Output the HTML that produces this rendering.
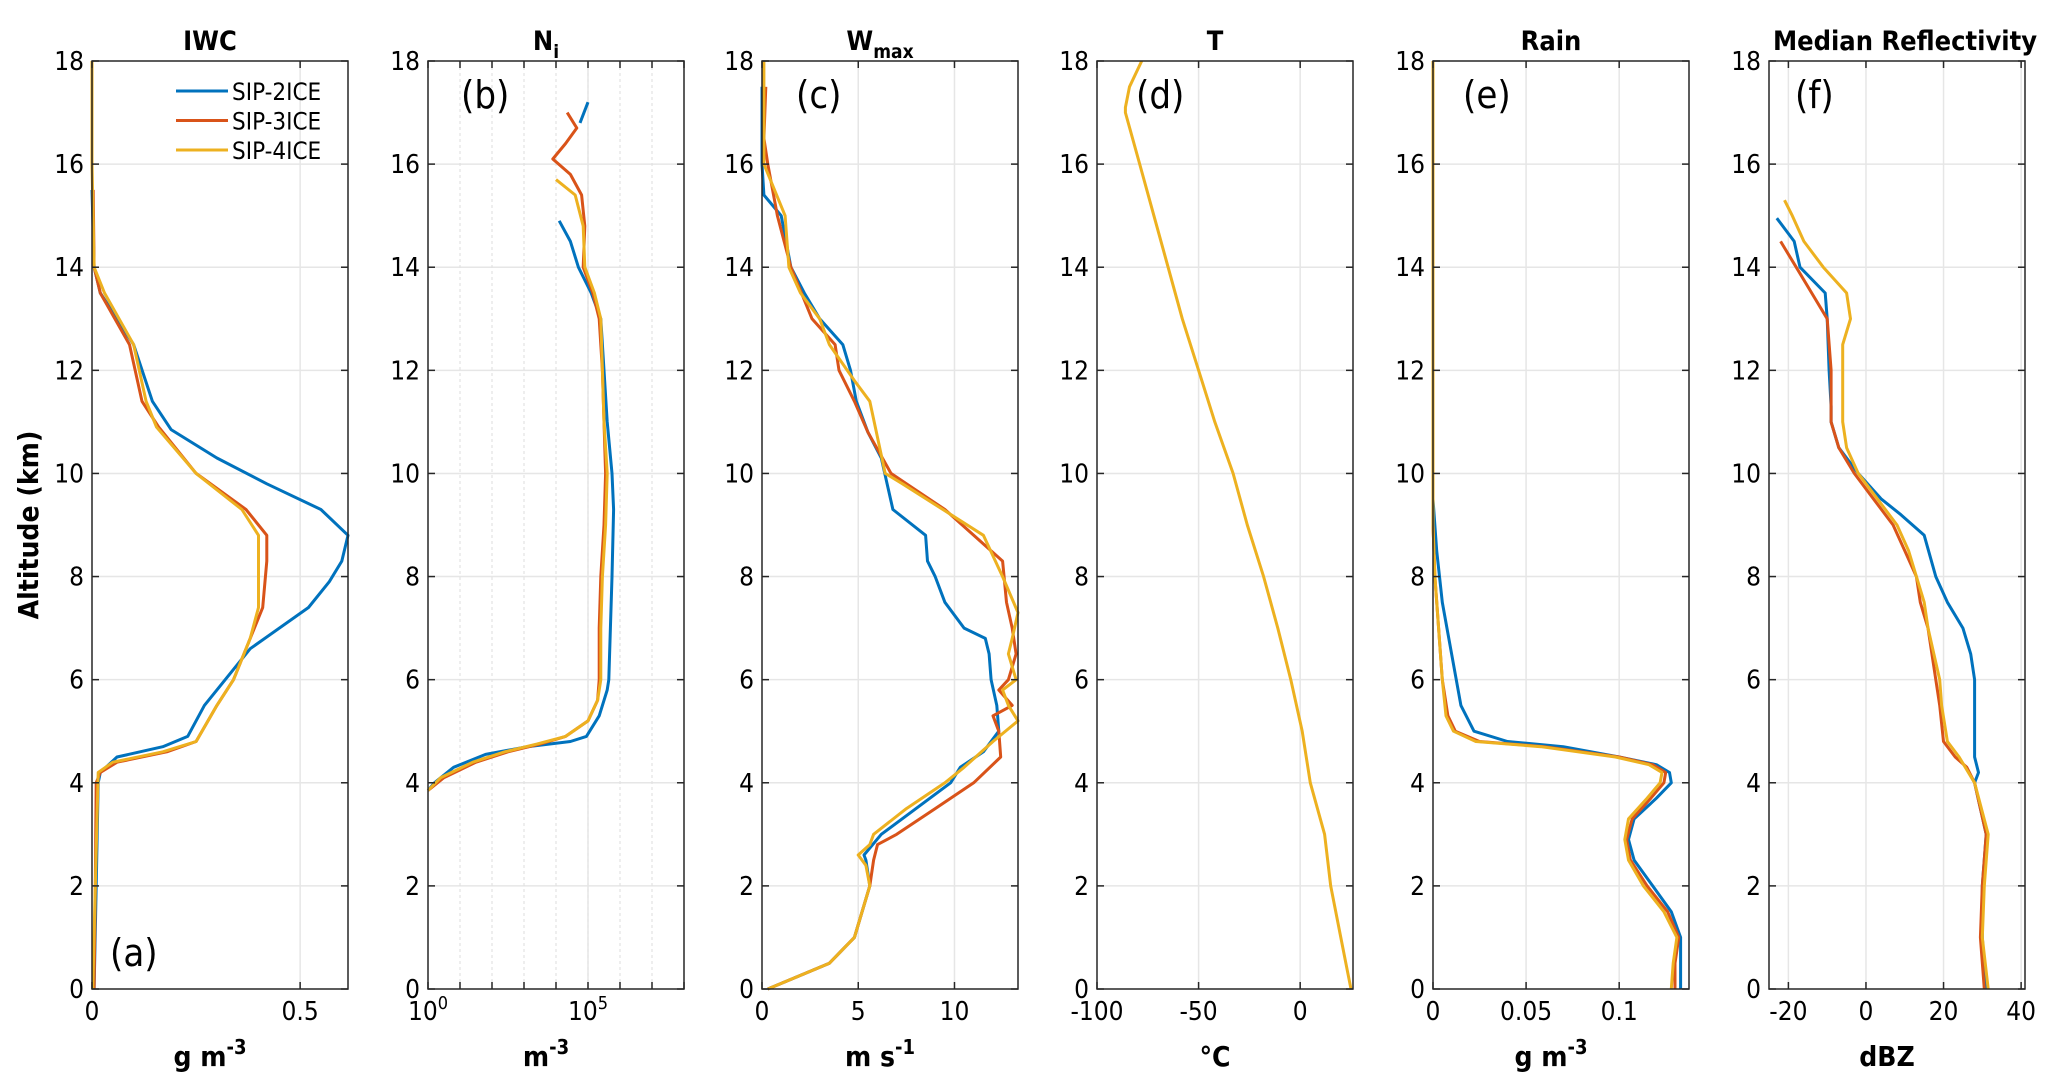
<!DOCTYPE html>
<html><head><meta charset="utf-8">
<style>
html,body{margin:0;padding:0;background:#fff;}
svg{display:block;}
text{font-family:"DejaVu Sans Condensed","DejaVu Sans","Liberation Sans",sans-serif;fill:#000;}
</style></head>
<body>
<svg id="fig" width="2067" height="1092" viewBox="0 0 2067 1092" xmlns="http://www.w3.org/2000/svg"></svg>
<script>
// ---------- data (altitude km, value) ----------
var altTicks = [0,2,4,6,8,10,12,14,16,18];
var seriesNames = ["SIP-2ICE","SIP-3ICE","SIP-4ICE"];
var seriesColors = ["#0072BD","#D95319","#EDB120"];

// IWC (g m-3)
var iwcAlt2 = [15.5,14,13.5,12.5,11.4,10.85,10.3,9.8,9.3,8.8,8.3,7.9,7.4,6.6,6,5.5,4.9,4.7,4.5,4.2,4,2,0];
var iwcVal2 = [0,0.005,0.02,0.1,0.145,0.19,0.3,0.42,0.55,0.615,0.6,0.57,0.52,0.38,0.32,0.27,0.23,0.17,0.06,0.02,0.015,0.01,0.005];
var iwcAlt3 = [15.5,14,13.5,12.5,11.4,10.9,10,9.3,8.8,8.3,7.4,6.8,6,5.5,4.8,4.6,4.4,4.2,4,2,0];
var iwcVal3 = [0.003,0.005,0.02,0.09,0.12,0.16,0.25,0.37,0.42,0.42,0.41,0.38,0.34,0.3,0.25,0.18,0.06,0.02,0.01,0.008,0.005];
var iwcAlt4 = [18,16,14,13.5,12.5,11.4,10.9,10,9.3,8.8,8,7.4,6.8,6,5.5,4.8,4.6,4.4,4.2,2,0];
var iwcVal4 = [0,0,0.005,0.03,0.1,0.13,0.155,0.25,0.36,0.4,0.4,0.4,0.38,0.34,0.3,0.25,0.17,0.05,0.015,0.008,0.002];

// Ni (log10 m-3)
var niAlt2 = [17.2,16.8,null,14.9,14.5,14,13.5,13,12,11,10,9.3,8,7,6,5.8,5.3,4.9,4.8,4.7,4.55,4.3,4.0,3.85];
var niVal2 = [5.0,4.75,null,4.1,4.45,4.7,5.1,5.4,5.5,5.6,5.75,5.8,5.75,5.7,5.65,5.6,5.35,4.95,4.45,3.1,1.8,0.8,0.2,0];
var niAlt3 = [17.0,16.7,16.4,16.1,15.8,15.4,14.8,14,13.5,13,12,11,10,9,8,7,6,5.6,5.2,4.9,4.75,4.6,4.4,4.1,3.85];
var niVal3 = [4.35,4.65,4.3,3.9,4.45,4.8,4.9,4.85,5.15,5.35,5.45,5.5,5.55,5.5,5.4,5.35,5.35,5.3,5.0,4.3,3.5,2.5,1.5,0.5,0];
var niAlt4 = [15.7,15.4,14.8,14,13.5,13,12,11,10,9,8,7,6,5.6,5.2,4.9,4.75,4.6,4.4,4.1,3.85];
var niVal4 = [4.0,4.6,4.85,4.9,5.2,5.4,5.45,5.5,5.6,5.55,5.45,5.4,5.4,5.3,5.0,4.3,3.4,2.4,1.4,0.4,0];

// Wmax (m s-1)
var wAlt2 = [17.5,16,15.4,15,14,13.5,13,12.5,12,11.4,10.8,10.3,9.8,9.3,8.8,8.3,8,7.5,7,6.8,6.5,6,5.5,5,4.6,4.3,4,3.5,3,2.6,2.5,2,1,0.5,0];
var wVal2 = [0,0,0.1,1,1.5,2.2,3,4.2,4.6,4.9,5.5,6.2,6.5,6.8,8.5,8.6,9,9.5,10.5,11.6,11.8,11.9,12.2,12.3,11.5,10.3,9.8,8,6.2,5.3,5.4,5.6,4.8,3.5,0.3];
var wAlt3 = [17.5,16.5,16,15,14,13,12.5,12,11.4,10.8,10,9.8,9.3,8.8,8.3,7.5,7,6.5,6,5.8,5.5,5.3,5,4.5,4,3.5,3,2.8,2.5,2,1,0.5,0];
var wVal3 = [0.2,0.1,0.3,0.8,1.5,2.6,3.8,4,4.8,5.5,6.7,7.5,9.5,11,12.5,12.7,13.0,13.2,12.8,12.3,13.0,12.0,12.3,12.4,11.0,9,7,6,5.8,5.6,4.8,3.5,0.3];
var wAlt4 = [18,16,15,14,13.5,13,12.5,11.8,11.4,10,9.8,9.3,8.8,8,7.3,6.8,6.5,6,5.8,5.5,5.2,4.8,4.3,4,3.5,3,2.8,2.6,2.4,2,1,0.5,0];
var wVal4 = [0.1,0.1,1.2,1.4,2.0,3,3.5,4.8,5.6,6.4,7.3,9.4,11.5,12.5,13.3,13.0,12.8,13.2,12.5,12.8,13.3,12.0,10.5,9.5,7.5,5.8,5.6,5.0,5.4,5.6,4.8,3.5,0.3];

// T (deg C)
var tAlt = [18,17.5,17.1,17,16,15,14,13,12,11,10,9,8,7,6,5,4,3,2,1,0.3,0];
var tVal = [-78,-84,-86,-86,-79,-72,-65,-58,-50,-42,-33,-26,-18,-11,-4.6,1,5,12,15,20,23.5,25];

// Rain (g m-3)
var rAlt2 = [18,9.5,8.5,7.5,6.5,5.5,5,4.8,4.7,4.5,4.35,4.2,4,3.7,3.3,2.9,2.5,2,1.5,1,0.5,0];
var rVal2 = [0,0,0.002,0.005,0.01,0.015,0.022,0.04,0.07,0.1,0.12,0.127,0.128,0.12,0.108,0.105,0.108,0.118,0.128,0.133,0.133,0.133];
var rAlt3 = [18,9,8,7,6,5.3,5,4.8,4.7,4.5,4.35,4.2,4,3.7,3.3,2.9,2.5,2,1.5,1,0.5,0];
var rVal3 = [0,0,0.001,0.003,0.005,0.008,0.012,0.025,0.06,0.1,0.118,0.125,0.124,0.117,0.107,0.104,0.106,0.115,0.126,0.132,0.13,0.13];
var rAlt4 = [18,9,8,7,6,5.3,5,4.8,4.7,4.5,4.35,4.2,4,3.7,3.3,2.9,2.5,2,1.5,1,0.5,0];
var rVal4 = [0,0,0.001,0.003,0.005,0.007,0.011,0.023,0.058,0.098,0.116,0.123,0.122,0.115,0.105,0.103,0.105,0.113,0.124,0.131,0.129,0.128];

// Reflectivity (dBZ)
var zAlt2 = [14.95,14.5,14,13.5,13,12,11.3,11,10.5,10,9.5,9.2,8.8,8,7.5,7,6.5,6,5,4.5,4.2,4,3,2,1,0];
var zVal2 = [-23,-18.5,-17,-10.5,-10,-9.5,-9,-9,-7,-2,4,9,15,18,21,25,27,28,28,28,29,28,31,30,30,31];
var zAlt3 = [14.5,14,13.5,13,12,11,10.5,10,9.5,9,8.5,8,7.5,7,6,5.5,4.8,4.5,4.3,4,3,2,1,0];
var zVal3 = [-22,-18,-14,-10,-9,-9,-7,-3,2,7,10,13,14,16,18,19,20,23,26,28,31,30,29.5,30.5];
var zAlt4 = [15.3,15,14.5,14,13.5,13,12.5,12,11.5,11,10.5,10,9.5,9,8.5,8,7.5,7,6,5.5,4.8,4.5,4,3,2,1,0];
var zVal4 = [-21,-19,-16,-11,-5,-4,-6,-6,-6,-6,-5,-2,3,8,11,13,15,16,19,19.5,21,24,28,31.5,30.5,30,31.5];

// ---------- layout ----------
var NS="http://www.w3.org/2000/svg";
var svg=document.getElementById('fig');
var TOP=61, BOT=989;
function yAlt(a){return BOT-(a/18)*(BOT-TOP);}
function el(tag,attrs,parent){var e=document.createElementNS(NS,tag);for(var k in attrs)e.setAttribute(k,attrs[k]);(parent||svg).appendChild(e);return e;}

var panels=[
 {key:"iwc",title:"IWC",letter:"(a)",left:92,xmin:0,xmax:0.615,ticks:[0,0.5],labels:["0","0.5"],unit:"g m",sup:"-3",
  series:[[iwcAlt2,iwcVal2],[iwcAlt3,iwcVal3],[iwcAlt4,iwcVal4]],lx:110,ly:966},
 {key:"ni",title:"N",sub:"i",letter:"(b)",left:428,xmin:0,xmax:8,ticks:[0,5],labels:["10","10"],labsup:["0","5"],minor:[1,2,3,4,5,6,7],unit:"m",sup:"-3",
  series:[[niAlt2,niVal2],[niAlt3,niVal3],[niAlt4,niVal4]],lx:461,ly:108},
 {key:"wmax",title:"W",sub:"max",letter:"(c)",left:762,xmin:0,xmax:13.3,ticks:[0,5,10],labels:["0","5","10"],unit:"m s",sup:"-1",
  series:[[wAlt2,wVal2],[wAlt3,wVal3],[wAlt4,wVal4]],lx:796,ly:108},
 {key:"t",title:"T",letter:"(d)",left:1097,xmin:-100,xmax:26,ticks:[-100,-50,0],labels:["-100","-50","0"],unit:"°C",
  series:[[tAlt,tVal],[tAlt,tVal],[tAlt,tVal]],lx:1136,ly:108},
 {key:"rain",title:"Rain",letter:"(e)",left:1433,xmin:0,xmax:0.1375,ticks:[0,0.05,0.1],labels:["0","0.05","0.1"],unit:"g m",sup:"-3",
  series:[[rAlt2,rVal2],[rAlt3,rVal3],[rAlt4,rVal4]],lx:1463,ly:108},
 {key:"refl",title:"Median Reflectivity",letter:"(f)",left:1769,xmin:-25,xmax:41,ticks:[-20,0,20,40],labels:["-20","0","20","40"],unit:"dBZ",
  series:[[zAlt2,zVal2],[zAlt3,zVal3],[zAlt4,zVal4]],lx:1795,ly:108}
];
var W=256;

panels.forEach(function(p,pi){
  var g=el('g',{});
  
  
  var L=p.left,R=p.left+W;
  function xv(v){return L+(v-p.xmin)/(p.xmax-p.xmin)*W;}
  altTicks.forEach(function(a){
    if(a>0&&a<18){var gl=el('line',{x1:L,x2:R,y1:yAlt(a),y2:yAlt(a),stroke:'#e6e6e6','stroke-width':1.5},g);
    
    }
  });
  if(p.minor){p.minor.forEach(function(v){var gl=el('line',{x1:xv(v),x2:xv(v),y1:TOP,y2:BOT,stroke:'#e2e2e2','stroke-width':1.2,'stroke-dasharray':'3,3'},g);
    
    });}
  p.ticks.forEach(function(v){
    if(v>p.xmin&&v<p.xmax){var gl=el('line',{x1:xv(v),x2:xv(v),y1:TOP,y2:BOT,stroke:'#e6e6e6','stroke-width':1.5},g);
    
    }
  });
  [0,1,2].forEach(function(s){
    if(p.key==='t'&&s<2)return;
    var A=p.series[s][0],V=p.series[s][1];
    var segs=[[]];
    for(var i=0;i<A.length;i++){if(A[i]===null){segs.push([]);continue;}segs[segs.length-1].push(xv(V[i]).toFixed(1)+','+yAlt(A[i]).toFixed(1));}
    segs.forEach(function(sg){if(sg.length<2)return;
      var pl=el('polyline',{points:sg.join(' '),fill:'none',stroke:seriesColors[s],'stroke-width':3,'stroke-linejoin':'round'},g);
      
      
    });
  });
  var bx=el('rect',{x:L,y:TOP,width:W,height:BOT-TOP,fill:'none',stroke:'#262626','stroke-width':1.5},g);
  
  
  altTicks.forEach(function(a){
    var y=yAlt(a);
    el('line',{x1:L,x2:L+7,y1:y,y2:y,stroke:'#262626','stroke-width':1.5},g);
    el('line',{x1:R-7,x2:R,y1:y,y2:y,stroke:'#262626','stroke-width':1.5},g);
    var t=el('text',{x:L-8,y:y+9,'text-anchor':'end','font-size':26},g);
    t.textContent=a;
    
    
  });
  var xt=p.minor?[0,1,2,3,4,5,6,7,8]:p.ticks;
  xt.forEach(function(v){var x=xv(v);
    el('line',{x1:x,x2:x,y1:BOT,y2:BOT-7,stroke:'#262626','stroke-width':1.5},g);
    el('line',{x1:x,x2:x,y1:TOP,y2:TOP+7,stroke:'#262626','stroke-width':1.5},g);});
  p.ticks.forEach(function(v,i){
    var t=el('text',{x:xv(v),y:1020,'text-anchor':'middle','font-size':26},g);
    t.textContent=p.labels[i];
    if(p.labsup){var ts=el('tspan',{dy:-11,'font-size':18},t);ts.textContent=p.labsup[i];}
    
    
  });
  var tt=el('text',{x:L+W/2-(p.key==='refl'?-8:10),y:50,'text-anchor':'middle','font-size':27,'font-weight':'bold'},g);
  tt.textContent=p.title;
  if(p.sub){var sb=el('tspan',{dy:8,'font-size':19},tt);sb.textContent=p.sub;}
  
  
  var xl=el('text',{x:L+W/2-10,y:1066,'text-anchor':'middle','font-size':28,'font-weight':'bold'},g);
  xl.textContent=p.unit;
  if(p.sup){var sp=el('tspan',{dy:-12,'font-size':20},xl);sp.textContent=p.sup;}
  
  
  var lt=el('text',{x:p.lx,y:p.ly,'font-size':38},g);
  lt.textContent=p.letter;
  
  
});

var yt=el('text',{x:0,y:0,'text-anchor':'middle','font-size':28,'font-weight':'bold',transform:'translate(38,525) rotate(-90)'});
yt.textContent='Altitude (km)';



var lg=el('g',{});


seriesNames.forEach(function(n,i){
  var y=91+i*29.5;
  el('line',{x1:176,x2:228,y1:y,y2:y,stroke:seriesColors[i],'stroke-width':3},lg);
  var t=el('text',{x:232,y:y+9,'font-size':24},lg);
  t.textContent=n;
  
  
});
</script>
</body></html>
